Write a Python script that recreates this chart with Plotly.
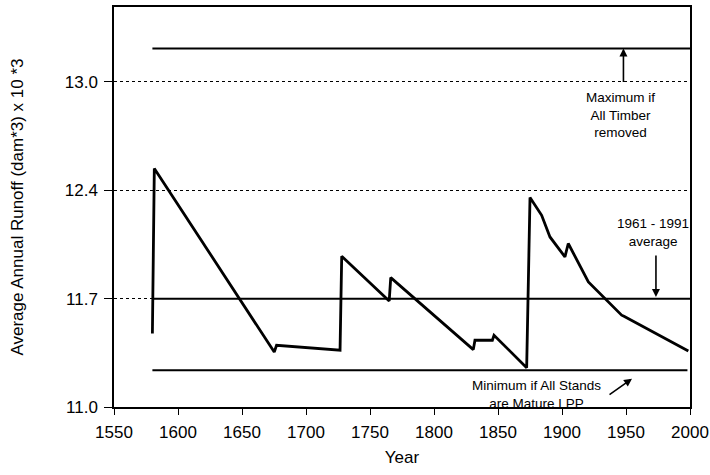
import plotly.graph_objects as go

# Simulated average annual runoff (dam^3 x 10^3) by year
years = [1580, 1581.5, 1675.2, 1677, 1726.6, 1727.9, 1765, 1766.2, 1830.7, 1832,
         1845.6, 1846.9, 1872.4, 1875, 1884.1, 1890.6, 1902.3, 1904.9, 1920.6,
         1946.6, 1948.4, 1998.7]
runoff = [11.461, 12.497, 11.345, 11.387, 11.356, 11.946, 11.665, 11.812, 11.360,
          11.419, 11.419, 11.450, 11.247, 12.314, 12.203, 12.067, 11.942, 12.026,
          11.785, 11.576, 11.569, 11.352]

# Reference levels
ref_years = [1580, 2000]
max_all_timber_removed = [13.25, 13.25]
avg_1961_1991 = [11.68, 11.68]
min_years = [1580, 1998]
min_all_mature_lpp = [11.23, 11.23]

# Tick positions (labels shown to one decimal)
y_ticks = [11.0, 11.68, 12.36, 13.04]
x_ticks = [1550, 1600, 1650, 1700, 1750, 1800, 1850, 1900, 1950, 2000]

FONT = "Arial, Liberation Sans, sans-serif"

fig = go.Figure()
fig.add_trace(go.Scatter(x=ref_years, y=max_all_timber_removed, mode="lines",
                         line=dict(color="black", width=2), showlegend=False))
fig.add_trace(go.Scatter(x=ref_years, y=avg_1961_1991, mode="lines",
                         line=dict(color="black", width=2), showlegend=False))
fig.add_trace(go.Scatter(x=min_years, y=min_all_mature_lpp, mode="lines",
                         line=dict(color="black", width=2), showlegend=False))
fig.add_trace(go.Scatter(x=years, y=runoff, mode="lines",
                         line=dict(color="black", width=2.8), showlegend=False))

ann_font = dict(family=FONT, size=13.5, color="black")
annotations = [
    dict(x=1945.5, y=12.83, text="Maximum if<br>All Timber<br>removed", showarrow=False,
         font=ann_font, xref="x", yref="y"),
    dict(x=1948, y=13.25, text="", showarrow=True, ax=0, ay=35, arrowhead=2,
         arrowsize=1, arrowwidth=1.6, arrowcolor="black", xref="x", yref="y"),
    dict(x=1970.8, y=12.095, text="1961 - 1991<br>average", showarrow=False,
         font=ann_font, xref="x", yref="y"),
    dict(x=1973.4, y=11.69, text="", showarrow=True, ax=0, ay=-43, arrowhead=2,
         arrowsize=1, arrowwidth=1.6, arrowcolor="black", xref="x", yref="y"),
    dict(x=1880.1, y=11.077, text="Minimum if All Stands<br>are Mature LPP",
         showarrow=False, font=ann_font, xref="x", yref="y"),
    dict(x=1954.7, y=11.178, text="", showarrow=True, ax=-24, ay=17, arrowhead=2,
         arrowsize=1, arrowwidth=1.6, arrowcolor="black", xref="x", yref="y"),
]

fig.update_layout(
    width=710, height=475,
    margin=dict(l=114, r=20, t=7, b=68),
    paper_bgcolor="white", plot_bgcolor="white",
    font=dict(family=FONT, color="black"),
    annotations=annotations,
    xaxis=dict(
        range=[1550, 2000], tickvals=x_ticks, showgrid=False, zeroline=False,
        automargin=False,
        showline=True, linecolor="black", linewidth=1.5, mirror=True,
        ticks="outside", ticklen=6, tickcolor="black", ticklabelstandoff=3,
        tickfont=dict(family=FONT, size=17, color="black"),
        title=dict(text="Year", font=dict(family=FONT, size=17, color="black"), standoff=10),
    ),
    yaxis=dict(
        range=[11.0, 13.51], tickvals=y_ticks, tickformat=".1f", zeroline=False,
        automargin=False,
        showgrid=True, gridcolor="black", gridwidth=1, griddash="dot",
        showline=True, linecolor="black", linewidth=1.5, mirror=True,
        ticks="outside", ticklen=8, tickcolor="black", ticklabelstandoff=3,
        tickfont=dict(family=FONT, size=17, color="black"),
        title=dict(text="Average Annual Runoff (dam*3) x 10 *3",
                   font=dict(family=FONT, size=17, color="black"), standoff=37),
    ),
)

fig.write_html("out.html", config={"displayModeBar": False},
               post_script="document.body.style.margin='0px';")
